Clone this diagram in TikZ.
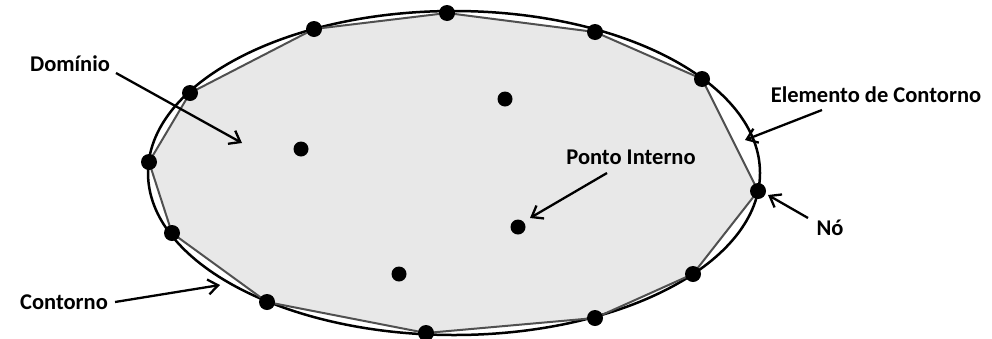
\documentclass[tikz,border=0pt]{standalone}
\usepackage{fontspec}
\setmainfont{Carlito}
\usetikzlibrary{arrows.meta}
\definecolor{domfill}{HTML}{E8E8E8}
\definecolor{edgegray}{HTML}{505050}
\tikzset{
  nodept/.style={circle,fill=black,inner sep=0pt,minimum size=16pt},
  intpt/.style={circle,fill=black,inner sep=0pt,minimum size=15pt},
  lbl/.style={font=\fontsize{22.5}{26}\selectfont\bfseries,inner sep=0pt},
  pointer/.style={line width=2.3pt,-{Straight Barb[length=10pt,width=15pt,line width=2.3pt]}},
  elem/.style={draw=edgegray,line width=2pt,line join=round},
}
\begin{document}
\begin{tikzpicture}[x=1pt,y=-1pt]
\useasboundingbox[fill=white] (0,0) rectangle (992,338);
% boundary nodes
\coordinate (n1) at (447,13);
\coordinate (n2) at (595,32);
\coordinate (n3) at (702,79);
\coordinate (n4) at (758,191);
\coordinate (n5) at (693,274);
\coordinate (n6) at (595,318);
\coordinate (n7) at (426,333);
\coordinate (n8) at (267,302);
\coordinate (n9) at (172,233);
\coordinate (n10) at (149,162);
\coordinate (n11) at (190,93);
\coordinate (n12) at (314,29);
% domain (discretised)
\fill[domfill] (n1)--(n2)--(n3)--(n4)--(n5)--(n6)--(n7)--(n8)--(n9)--(n10)--(n11)--(n12)--cycle;
% exact boundary
\draw[line width=2.5pt] (454,173) ellipse[x radius=306,y radius=162];
% boundary elements
\draw[elem] (n1)--(n2)--(n3)--(n4)--(n5)--(n6)--(n7)--(n8)--(n9)--(n10)--(n11)--(n12)--cycle;
% nodes
\foreach \i in {1,...,12} \node[nodept] (d\i) at (n\i) {};
% internal points
\node[intpt] (p1) at (505,99) {};
\node[intpt] (p2) at (301,149) {};
\node[intpt] (p3) at (518,227) {};
\node[intpt] (p4) at (399,274) {};
% labels
\node[lbl] (ldom) at (70,64) {Domínio};
\node[lbl] (lelem) at (876,95) {Elemento de Contorno};
\node[lbl] (lpt) at (631,157) {Ponto Interno};
\node[lbl] (lno) at (830,228) {Nó};
\node[lbl] (lcont) at (64,302) {Contorno};
% arrow ends
\coordinate (adom) at (242,143);
\coordinate (aelem) at (745,140);
\coordinate (apt) at (530,218);
\coordinate (ano) at (768,195);
\coordinate (acont) at (220,285);
% pointers
\draw[pointer] (116,73) -- (adom);
\draw[pointer] (822,110) -- (aelem);
\draw[pointer] (607,173) -- (apt);
\draw[pointer] (808,218) -- (ano);
\draw[pointer] (lcont.east) ++(7pt,0) -- (acont);
\end{tikzpicture}
\end{document}
